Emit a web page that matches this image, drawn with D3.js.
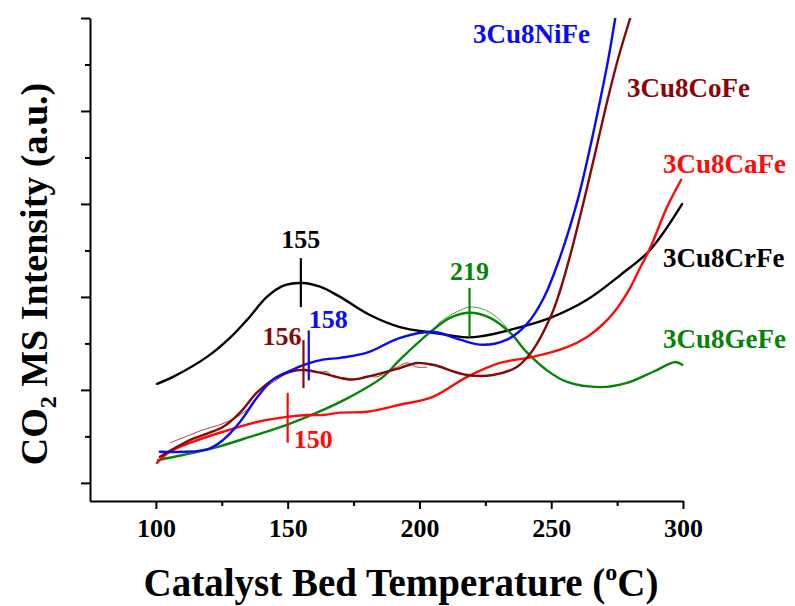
<!DOCTYPE html>
<html>
<head>
<meta charset="utf-8">
<script src="https://cdn.jsdelivr.net/npm/d3@7/dist/d3.min.js"></script>
<style>
  html, body { margin: 0; padding: 0; background: #fff; }
  svg text { font-family: "Liberation Serif", "Times New Roman", serif; font-weight: bold; }
</style>
</head>
<body>
<svg id="chart" width="795" height="606"></svg>
<script>
// Temperature (°C) and CO2 MS intensity (a.u.) for each catalyst (fitted curves)
const crFeT = [100.4, 106.5, 119.4, 128.1, 134.5, 142.1, 148.2, 155.4, 162.3, 169.9, 181.2, 192.6, 205.1, 218.1, 224.1, 234.4, 249.6, 263.6, 276.2, 287.5, 299.7];
const crFeI = [2.13, 2.28, 2.71, 3.12, 3.50, 4.00, 4.24, 4.30, 4.22, 4.00, 3.61, 3.35, 3.23, 3.13, 3.16, 3.29, 3.55, 3.94, 4.47, 5.01, 6.00];

const niFeT = [101.5, 119.4, 125.4, 131.9, 138.3, 144.4, 150.9, 157.3, 163.4, 169.9, 180.1, 192.6, 205.1, 215.4, 224.1, 233.2, 240.8, 246.9, 253.0, 260.2, 264.5, 268.6, 271.6, 274.3];
const niFeI = [0.67, 0.72, 0.92, 1.31, 1.83, 2.22, 2.41, 2.56, 2.65, 2.69, 2.80, 3.12, 3.25, 3.08, 2.97, 3.08, 3.42, 3.95, 4.80, 6.12, 7.15, 8.24, 9.10, 10.0];

const coFeT = [101.5, 112.9, 125.4, 131.9, 138.3, 144.4, 150.9, 156.6, 162.3, 169.9, 173.7, 180.1, 192.6, 199.1, 205.1, 218.1, 227.9, 237.1, 243.1, 249.6, 252.6, 257.0, 262.1, 266.5, 271.2, 275.5, 280.0];
const coFeI = [0.56, 0.92, 1.20, 1.51, 1.94, 2.22, 2.39, 2.43, 2.37, 2.26, 2.22, 2.28, 2.47, 2.58, 2.54, 2.32, 2.32, 2.50, 2.86, 3.55, 4.00, 4.85, 6.00, 7.05, 8.20, 9.15, 10.0];

const caFeT = [100.4, 105.3, 112.9, 125.4, 138.3, 149.7, 157.3, 163.4, 169.9, 180.1, 192.6, 205.1, 218.1, 230.6, 243.1, 256.0, 263.6, 269.0, 274.0, 279.5, 283.5, 287.5, 294.0, 299.3];
const caFeI = [0.43, 0.67, 0.86, 1.10, 1.31, 1.42, 1.46, 1.46, 1.51, 1.53, 1.68, 1.85, 2.28, 2.58, 2.71, 2.92, 3.14, 3.38, 3.68, 4.15, 4.60, 5.05, 5.94, 6.52];

const geFeT = [100.8, 110.3, 123.2, 135.7, 149.7, 161.1, 173.7, 186.2, 192.6, 205.1, 211.6, 219.2, 226.8, 234.4, 240.9, 248.4, 256.0, 268.6, 278.8, 288.7, 297.1, 299.7];
const geFeI = [0.49, 0.60, 0.77, 0.99, 1.25, 1.51, 1.85, 2.28, 2.65, 3.29, 3.55, 3.66, 3.55, 3.23, 2.80, 2.42, 2.17, 2.06, 2.15, 2.39, 2.60, 2.54];

// Raw (unsmoothed) traces where they separate from the fits
const coFeRawT = [105.3, 112.9, 117.8, 124.3, 130.8, 135.7, 140.6, 145.9, 150.1, 153.5, 158.5, 161.5, 164.9, 167.2, 171.0, 176.3, 180.1, 183.9, 187.7, 191.5, 195.3, 199.1, 202.9];
const coFeRawI = [0.86, 1.03, 1.14, 1.25, 1.42, 1.63, 2.00, 2.22, 2.37, 2.43, 2.39, 2.37, 2.39, 2.28, 2.26, 2.24, 2.30, 2.28, 2.39, 2.49, 2.58, 2.49, 2.49];
const geFeRawT = [205.1, 207.8, 213.5, 219.2, 224.9, 230.6, 234.4];
const geFeRawI = [3.29, 3.46, 3.66, 3.78, 3.72, 3.50, 3.23];

// Catalyst names, colours, peak temperatures
const seriesNames = ["3Cu8NiFe", "3Cu8CoFe", "3Cu8CaFe", "3Cu8CrFe", "3Cu8GeFe"];
const seriesColors = ["#0a0af5", "#860808", "#ff0a0a", "#000000", "#078407"];
const peakTemps = [158, 156, 150, 155, 219];

// Axis ticks
const xMajorTicks = [100, 150, 200, 250, 300];
const xMinorTicks = [125, 175, 225, 275];
const yMajorTicks = [0, 2, 4, 6, 8, 10];
const yMinorTicks = [1, 3, 5, 7, 9];

const seriesT = [niFeT, coFeT, caFeT, crFeT, geFeT];
const seriesI = [niFeI, coFeI, caFeI, crFeI, geFeI];

const svg = d3.select("#chart");
const x = d3.scaleLinear().domain([75, 300]).range([90, 683]);
const y = d3.scaleLinear().domain([-0.39, 10]).range([501, 18]);

// Plot clip so steep curves stop at the top of the axis
svg.append("defs").append("clipPath").attr("id", "plotClip")
  .append("rect").attr("x", 90).attr("y", 18).attr("width", 610).attr("height", 483);

// Axes
const gy = svg.append("g").attr("transform", "translate(90,0)");
gy.call(d3.axisLeft(y).tickValues(yMajorTicks).tickSize(9).tickSizeOuter(0).tickFormat(""));
const gyMinor = svg.append("g").attr("transform", "translate(90,0)");
gyMinor.call(d3.axisLeft(y).tickValues(yMinorTicks).tickSize(5).tickSizeOuter(0).tickFormat(""));
gyMinor.select(".domain").remove();

const gx = svg.append("g").attr("transform", "translate(0,501)");
gx.call(d3.axisBottom(x).tickValues(xMajorTicks).tickSize(8).tickSizeOuter(0).tickPadding(10));
const gxMinor = svg.append("g").attr("transform", "translate(0,501)");
gxMinor.call(d3.axisBottom(x).tickValues(xMinorTicks).tickSize(5).tickSizeOuter(0).tickFormat(""));
gxMinor.select(".domain").remove();

svg.selectAll(".domain").attr("stroke", "#000").attr("stroke-width", 2);
svg.selectAll(".tick line").attr("stroke", "#000").attr("stroke-width", 2);
gx.selectAll(".tick text")
  .attr("font-size", 26).attr("fill", "#000")
  .attr("font-family", "Liberation Serif, serif").attr("font-weight", "bold");

// Axis titles
const xTitle = svg.append("text").attr("x", 401).attr("y", 596)
  .attr("text-anchor", "middle").attr("font-size", 39).attr("fill", "#000");
xTitle.append("tspan").text("Catalyst Bed Temperature (");
xTitle.append("tspan").attr("font-size", 24).attr("dy", -16).text("o");
xTitle.append("tspan").attr("dy", 16).text("C)");

const yTitle = svg.append("text")
  .attr("transform", "translate(47,274) rotate(-90)")
  .attr("text-anchor", "middle").attr("font-size", 38).attr("fill", "#000");
yTitle.append("tspan").text("CO");
yTitle.append("tspan").attr("font-size", 24).attr("dy", 9).text("2");
yTitle.append("tspan").attr("dy", -9).text(" MS Intensity (a.u.)");

// Curves
const line = d3.line()
  .x(d => x(d[0])).y(d => y(d[1]))
  .curve(d3.curveCatmullRom.alpha(0.5));

const plot = svg.append("g").attr("clip-path", "url(#plotClip)");

// thin raw traces underneath
[[coFeRawT, coFeRawI, 1], [geFeRawT, geFeRawI, 4]].forEach(([T, I, ci]) => {
  plot.append("path").datum(T.map((t, k) => [t, I[k]]))
    .attr("d", line).attr("fill", "none")
    .attr("stroke", seriesColors[ci]).attr("stroke-opacity", 0.75).attr("stroke-width", 1);
});

const drawOrder = [3, 4, 2, 1, 0];
drawOrder.forEach(i => {
  const pts = seriesT[i].map((t, k) => [t, seriesI[i][k]]);
  plot.append("path").datum(pts)
    .attr("d", line).attr("fill", "none")
    .attr("stroke", seriesColors[i]).attr("stroke-width", 2.4)
    .attr("stroke-linejoin", "round").attr("stroke-linecap", "round");
});

// Peak markers
const interp = (T, I, t) => {
  for (let k = 1; k < T.length; k++) {
    if (t <= T[k]) {
      const f = (t - T[k - 1]) / (T[k] - T[k - 1]);
      return I[k - 1] + f * (I[k] - I[k - 1]);
    }
  }
  return I[I.length - 1];
};
// marker extent above/below curve (px) and label placement
const markerLayout = [
  { up: 33, down: 17, anchor: "start", dx: 0, dy: -35 },   // 158
  { up: 30, down: 18, anchor: "end", dx: -2, dy: -25 },    // 156
  { up: 24, down: 26, anchor: "start", dx: 6, dy: 31 },    // 150
  { up: 25, down: 24, anchor: "middle", dx: 0, dy: -35 },  // 155
  { up: 25, down: 24, anchor: "middle", dx: 0, dy: -33 }   // 219
];
peakTemps.forEach((t, i) => {
  const px = x(t);
  const py = y(interp(seriesT[i], seriesI[i], t));
  const m = markerLayout[i];
  svg.append("line")
    .attr("x1", px).attr("x2", px)
    .attr("y1", py - m.up).attr("y2", py + m.down)
    .attr("stroke", seriesColors[i]).attr("stroke-width", 2.2);
  svg.append("text")
    .attr("x", px + m.dx).attr("y", py + m.dy)
    .attr("text-anchor", m.anchor).attr("font-size", 26)
    .attr("fill", seriesColors[i]).text(t);
});

// Series names
const nameLayout = [
  { x: 473, y: 43 }, { x: 627, y: 97 }, { x: 663, y: 173 }, { x: 663, y: 267 }, { x: 663, y: 348 }
];
seriesNames.forEach((n, i) => {
  svg.append("text")
    .attr("x", nameLayout[i].x).attr("y", nameLayout[i].y)
    .attr("font-size", 27).attr("fill", seriesColors[i]).text(n);
});
</script>
</body>
</html>
